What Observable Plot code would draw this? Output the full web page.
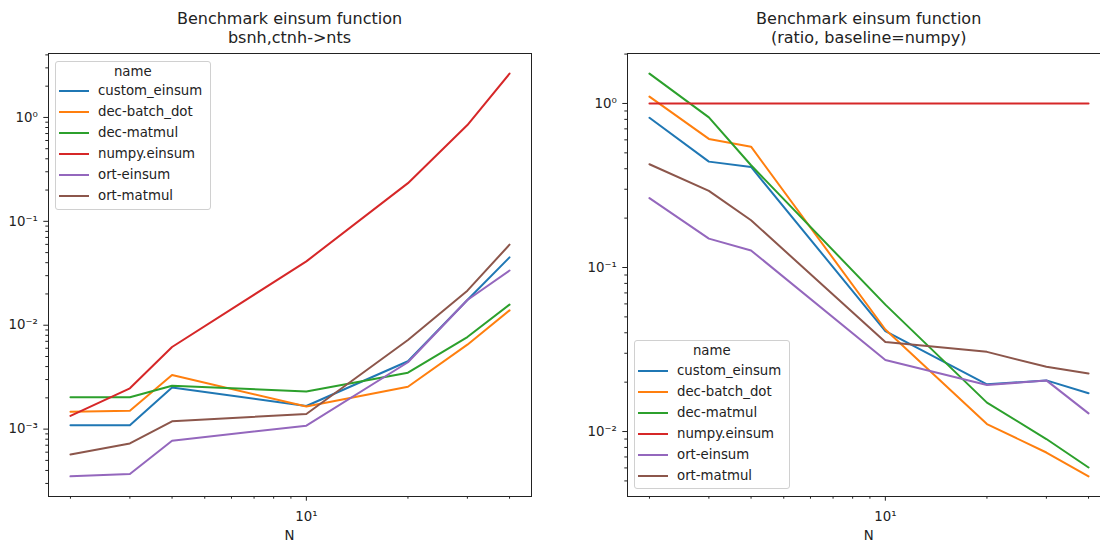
<!DOCTYPE html>
<html><head><meta charset="utf-8">
<script src="https://cdn.jsdelivr.net/npm/d3@7"></script>
<script src="https://cdn.jsdelivr.net/npm/@observablehq/plot@0.6"></script>
<style>
body{margin:0;background:#fff;font-family:"DejaVu Sans",sans-serif;}
#root{position:relative;width:1100px;height:544px;overflow:hidden;background:#fff;}
.panel{position:absolute;top:0;}
.title{position:absolute;top:9px;font-size:16px;line-height:19.2px;text-align:center;color:#222;white-space:nowrap;transform:translateX(-50%);}
.xlabel{position:absolute;top:528px;font-size:13.3px;line-height:16px;color:#222;transform:translateX(-50%);}
.legend{position:absolute;width:155.5px;height:149px;border:1px solid #d0d0d0;border-radius:3px;background:rgba(255,255,255,0.8);box-sizing:border-box;font-size:13.3px;color:#222;}
.legend .lt{position:absolute;left:0;right:0;top:1px;height:18px;line-height:18px;text-align:center;}
.legend .sw{position:absolute;left:3px;width:29.5px;height:2px;}
.legend .tx{position:absolute;left:42px;height:18px;line-height:18px;white-space:nowrap;}
</style>
</head><body>
<div id="root"></div>
<script>
// ---- data ----
const N = [2, 3, 4, 10, 20, 30, 40];
const names = ["custom_einsum", "dec-batch_dot", "dec-matmul", "numpy.einsum", "ort-einsum", "ort-matmul"];
const colors = ["#1f77b4", "#ff7f0e", "#2ca02c", "#d62728", "#9467bd", "#8c564b"];

// left panel: time (s)
const timeCustomEinsum = [1.09e-3, 1.09e-3, 2.51e-3, 1.67e-3, 4.5e-3, 0.0175, 0.045];
const timeDecBatchDot  = [1.47e-3, 1.50e-3, 3.32e-3, 1.65e-3, 2.56e-3, 6.5e-3, 0.0139];
const timeDecMatmul    = [2.03e-3, 2.03e-3, 2.62e-3, 2.30e-3, 3.49e-3, 7.7e-3, 0.0158];
const timeNumpyEinsum  = [1.34e-3, 2.47e-3, 6.17e-3, 0.0412, 0.233, 0.845, 2.64];
const timeOrtEinsum    = [3.51e-4, 3.70e-4, 7.72e-4, 1.08e-3, 4.4e-3, 0.0175, 0.0336];
const timeOrtMatmul    = [5.70e-4, 7.28e-4, 1.19e-3, 1.40e-3, 7.2e-3, 0.0215, 0.0596];

// right panel: ratio vs numpy
const ratioCustomEinsum = [0.818, 0.442, 0.41, 0.041, 0.0194, 0.0205, 0.0171];
const ratioDecBatchDot  = [1.10, 0.608, 0.545, 0.0419, 0.0111, 0.00745, 0.00533];
const ratioDecMatmul    = [1.52, 0.822, 0.42, 0.0594, 0.0150, 0.0090, 0.00604];
const ratioNumpyEinsum  = [1, 1, 1, 1, 1, 1, 1];
const ratioOrtEinsum    = [0.265, 0.150, 0.127, 0.0273, 0.0192, 0.0205, 0.0129];
const ratioOrtMatmul    = [0.426, 0.293, 0.194, 0.0352, 0.0306, 0.0248, 0.0226];

const titles = [["Benchmark einsum function", "bsnh,ctnh->nts"], ["Benchmark einsum function", "(ratio, baseline=numpy)"]];
const xLabel = "N";
const legendTitle = "name";

// ---- helpers ----
function toTable(series) {
  const rows = [];
  series.forEach((vals, i) => vals.forEach((v, j) => rows.push({name: names[i], N: N[j], v})));
  return rows;
}
const leftTable = toTable([timeCustomEinsum, timeDecBatchDot, timeDecMatmul, timeNumpyEinsum, timeOrtEinsum, timeOrtMatmul]);
const rightTable = toTable([ratioCustomEinsum, ratioDecBatchDot, ratioDecMatmul, ratioNumpyEinsum, ratioOrtEinsum, ratioOrtMatmul]);

function logPadDomain(vals, frac = 0.05) {
  const lo = Math.log10(d3.min(vals)), hi = Math.log10(d3.max(vals));
  const m = (hi - lo) * frac;
  return [Math.pow(10, lo - m), Math.pow(10, hi + m)];
}
const supMap = {"-": "\u207B", "0": "\u2070", "1": "\u00B9", "2": "\u00B2", "3": "\u00B3", "4": "\u2074", "5": "\u2075", "6": "\u2076", "7": "\u2077", "8": "\u2078", "9": "\u2079"};
const sup = d => "10" + String(Math.round(Math.log10(d))).split("").map(c => supMap[c]).join("");
function logTicks(domain) {
  const major = [], minor = [];
  const e0 = Math.floor(Math.log10(domain[0])), e1 = Math.ceil(Math.log10(domain[1]));
  for (let e = e0; e <= e1; e++) {
    for (let k = 1; k < 10; k++) {
      const v = k * Math.pow(10, e);
      if (v < domain[0] * 0.9999 || v > domain[1] * 1.0001) continue;
      (k === 1 ? major : minor).push(v);
    }
  }
  return {major, minor};
}

const xDomain = logPadDomain(N);
const xt = logTicks(xDomain);

function panel(table, width, marginLeft, marginRight) {
  const yDomain = logPadDomain(table.map(d => d.v));
  const yt = logTicks(yDomain);
  return Plot.plot({
    width, height: 544,
    marginLeft, marginRight, marginTop: 53, marginBottom: 48,
    style: {fontFamily: "DejaVu Sans", fontSize: "13.3px", color: "#222", background: "transparent", overflow: "visible"},
    x: {type: "log", domain: xDomain},
    y: {type: "log", domain: yDomain},
    color: {domain: names, range: colors},
    marks: [
      Plot.axisX({ticks: xt.minor, tickSize: 2.7, tickFormat: () => "", label: null}),
      Plot.axisX({ticks: xt.major, tickSize: 4.7, tickPadding: 10.5, tickFormat: sup, label: null}),
      Plot.axisY({ticks: yt.minor, tickSize: 2.7, tickFormat: () => "", label: null}),
      Plot.axisY({ticks: yt.major, tickSize: 4.7, tickPadding: 6, tickFormat: sup, label: null}),
      Plot.line(table, {x: "N", y: "v", stroke: "name", z: "name", strokeWidth: 2, strokeLinejoin: "round"}),
      Plot.frame({stroke: "#222", strokeWidth: 1})
    ]
  });
}

const root = document.getElementById("root");
function addDiv(cls, style, html) {
  const d = document.createElement("div");
  d.className = cls;
  Object.assign(d.style, style);
  if (html != null) d.textContent = html;
  root.appendChild(d);
  return d;
}

const p1 = panel(leftTable, 550, 48, 19);
p1.classList.add("panel"); p1.style.left = "0px";
root.appendChild(p1);
const p2 = panel(rightTable, 570, 77, 10);
p2.classList.add("panel"); p2.style.left = "550px";
root.appendChild(p2);

// titles
[[289.5, titles[0]], [868.7, titles[1]]].forEach(([cx, lines]) => {
  const t = addDiv("title", {left: cx + "px"});
  t.innerHTML = lines.map(s => s.replace(/&/g, "&amp;").replace(/</g, "&lt;").replace(/>/g, "&gt;")).join("<br>");
});
// x labels
addDiv("xlabel", {left: "289.5px"}, xLabel);
addDiv("xlabel", {left: "868.7px"}, xLabel);

// legends
function legend(left, top) {
  const box = addDiv("legend", {left: left + "px", top: top + "px"});
  const t = document.createElement("div"); t.className = "lt"; t.textContent = legendTitle; box.appendChild(t);
  names.forEach((n, i) => {
    const cy = 29.5 + i * 21;
    const sw = document.createElement("div"); sw.className = "sw";
    sw.style.top = (cy - 1) + "px"; sw.style.background = colors[i]; box.appendChild(sw);
    const tx = document.createElement("div"); tx.className = "tx";
    tx.style.top = (cy - 9) + "px"; tx.textContent = n; box.appendChild(tx);
  });
}
legend(55, 60.5);
legend(634, 340);
</script>
</body></html>
